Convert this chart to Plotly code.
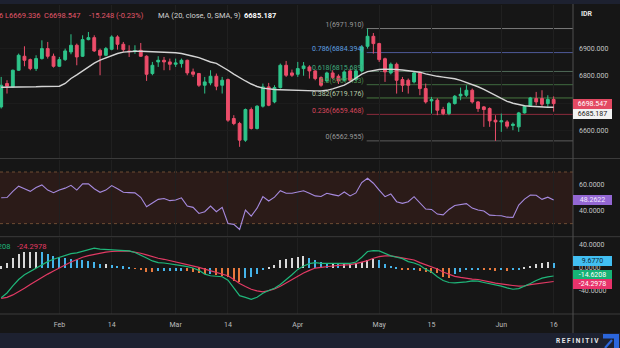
import plotly.graph_objects as go

# ---------------- data ----------------
open_ = [6686.7, 6771.6, 6759.5, 6820.1, 6871.0, 6858.8, 6826.1, 6862.5, 6898.8, 6871.0,
         6834.6, 6858.8, 6886.7, 6911.0, 6871.0, 6931.6, 6938.8, 6892.8, 6874.6, 6896.4,
         6941.3, 6914.6, 6890.4, 6889.0, 6892.8, 6871.0, 6808.0, 6850.4, 6856.4, 6850.4,
         6841.9, 6844.3, 6856.4, 6814.0, 6808.0, 6765.5, 6774.0, 6798.2, 6765.5, 6786.1,
         6644.3, 6626.1, 6565.5, 6677.0, 6608.0, 6689.2, 6759.5, 6704.9, 6757.0, 6838.2,
         6810.4, 6805.5, 6826.0, 6832.1, 6817.6, 6793.3, 6781.2, 6810.3, 6798.2, 6783.6,
         6817.6, 6786.1, 6817.6, 6907.2, 6943.6, 6917.0, 6862.0, 6810.3, 6841.8, 6786.1,
         6783.6, 6777.6, 6810.3, 6753.3, 6708.5, 6710.9, 6677.0, 6662.4, 6698.8, 6726.7,
         6729.1, 6747.3, 6704.8, 6686.7, 6680.6, 6638.2, 6632.1, 6632.1, 6618.8, 6614.0,
         6664.8, 6689.1, 6717.0, 6717.0, 6698.8, 6713.8]
high = [6795.8, 6783.7, 6822.5, 6880.7, 6907.3, 6862.5, 6874.6, 6929.1, 6923.1, 6880.7,
        6868.5, 6898.8, 6951.0, 6917.0, 6947.3, 6959.4, 6947.3, 6898.8, 6904.9, 6947.3,
        6947.3, 6923.1, 6911.0, 6911.0, 6919.4, 6874.6, 6850.4, 6871.0, 6868.5, 6862.5,
        6862.5, 6862.5, 6858.8, 6826.1, 6810.4, 6795.8, 6820.1, 6808.0, 6795.8, 6789.8,
        6656.4, 6632.2, 6680.7, 6684.3, 6692.8, 6771.6, 6774.0, 6765.5, 6844.3, 6854.0,
        6822.5, 6850.4, 6850.0, 6838.2, 6820.0, 6798.0, 6815.0, 6820.0, 6805.0, 6820.0,
        6825.0, 6823.0, 6910.0, 6971.91, 6955.7, 6920.0, 6866.0, 6848.0, 6848.0, 6795.7,
        6790.0, 6815.0, 6815.0, 6771.5, 6723.0, 6718.0, 6686.7, 6704.8, 6730.0, 6757.0,
        6765.4, 6753.3, 6708.0, 6690.0, 6685.0, 6656.4, 6662.4, 6638.2, 6630.0, 6668.5,
        6692.7, 6723.0, 6741.2, 6747.3, 6729.1, 6725.0]
low = [6680.7, 6735.2, 6757.0, 6817.6, 6834.6, 6820.1, 6817.6, 6858.8, 6862.5, 6829.8,
       6832.2, 6854.0, 6878.2, 6838.2, 6868.5, 6929.1, 6886.7, 6801.9, 6871.0, 6892.8,
       6895.2, 6886.7, 6868.5, 6880.0, 6868.5, 6781.3, 6801.9, 6832.2, 6820.1, 6820.1,
       6832.2, 6829.8, 6801.9, 6795.8, 6759.5, 6735.2, 6765.5, 6747.3, 6735.2, 6632.2,
       6620.1, 6541.3, 6559.5, 6604.3, 6604.3, 6684.3, 6689.2, 6700.0, 6753.4, 6795.8,
       6795.8, 6795.8, 6800.0, 6789.7, 6783.6, 6760.0, 6775.0, 6788.0, 6770.0, 6778.0,
       6778.0, 6780.0, 6812.0, 6898.8, 6880.6, 6850.3, 6777.6, 6805.0, 6735.1, 6741.2,
       6735.1, 6772.0, 6729.1, 6698.8, 6662.4, 6656.4, 6656.4, 6656.4, 6695.0, 6710.9,
       6723.0, 6698.8, 6668.5, 6614.0, 6614.0, 6562.955, 6595.8, 6607.9, 6601.8, 6595.8,
       6662.4, 6686.7, 6692.7, 6686.7, 6686.7, 6669.336]
close = [6765.5, 6762.0, 6820.1, 6874.6, 6856.4, 6826.1, 6862.5, 6898.8, 6871.0, 6834.6,
         6858.8, 6890.4, 6911.0, 6868.5, 6931.6, 6938.8, 6890.4, 6874.6, 6898.8, 6941.3,
         6914.6, 6895.2, 6888.0, 6891.0, 6871.0, 6805.5, 6838.2, 6856.4, 6850.4, 6841.9,
         6846.7, 6856.4, 6810.4, 6805.5, 6765.5, 6777.6, 6798.2, 6761.9, 6783.7, 6638.3,
         6626.1, 6565.5, 6677.0, 6608.0, 6689.2, 6759.5, 6692.8, 6757.0, 6838.2, 6801.9,
         6801.9, 6826.1, 6835.7, 6817.6, 6789.7, 6765.4, 6810.3, 6793.3, 6781.2, 6814.0,
         6783.6, 6817.6, 6904.8, 6943.6, 6917.0, 6858.8, 6814.0, 6841.8, 6783.6, 6765.4,
         6765.4, 6810.3, 6753.3, 6704.8, 6713.3, 6674.5, 6662.4, 6698.8, 6725.4, 6732.7,
         6747.3, 6704.8, 6680.6, 6677.0, 6635.8, 6632.1, 6635.8, 6616.4, 6623.6, 6664.8,
         6689.1, 6719.4, 6704.8, 6696.4, 6713.795, 6698.547]
ma20 = [6758, 6758, 6759, 6759, 6760, 6760, 6760, 6761, 6761, 6761,
        6762, 6772, 6790, 6803, 6818, 6833, 6846, 6857, 6865, 6875,
        6881, 6886, 6888, 6889, 6889, 6888, 6888, 6887, 6887, 6886,
        6884, 6881, 6877, 6871, 6866, 6858, 6850, 6845, 6834, 6820,
        6806, 6792, 6781, 6770, 6761, 6755, 6752, 6750, 6749, 6748,
        6747, 6746, 6746, 6745, 6745, 6745, 6747, 6752, 6758, 6766,
        6778, 6792, 6806, 6815, 6820, 6823, 6824, 6824, 6823, 6821,
        6819, 6816, 6813, 6807, 6802, 6798, 6795, 6792, 6789, 6783,
        6776, 6769, 6760, 6750, 6739, 6727, 6717, 6707, 6700, 6695,
        6691, 6689, 6687, 6686, 6685.5, 6685.187]
rsi = [50.1, 50.2, 55.0, 59.0, 57.0, 55.0, 58.0, 60.0, 56.0, 54.0,
       56.0, 57.5, 59.7, 56.0, 60.8, 60.8, 57.0, 54.3, 56.0, 59.5,
       57.0, 54.3, 54.0, 53.8, 50.4, 43.1, 46.0, 48.8, 49.5, 47.8,
       48.3, 50.0, 43.6, 42.6, 37.9, 39.2, 43.6, 39.2, 42.6, 30.1,
       29.4, 25.5, 40.5, 35.8, 42.0, 50.9, 47.5, 50.5, 55.5, 53.5,
       53.5, 54.5, 55.5, 53.5, 51.5, 51.0, 53.5, 52.5, 51.5, 54.5,
       51.5, 53.8, 61.8, 65.2, 61.3, 56.0, 50.9, 53.0, 47.0, 45.7,
       47.0, 50.9, 46.0, 41.3, 41.0, 37.4, 36.8, 41.0, 44.0, 44.5,
       45.5, 42.0, 40.5, 39.8, 36.6, 36.3, 36.1, 35.0, 34.8, 44.4,
       49.0, 52.2, 52.0, 48.8, 50.5, 48.2622]
macd = [-52.8, -44.5, -32.0, -20.8, -12.5, -6.5, -1.8, 4.2, 10.7, 14.8,
        18.4, 21.9, 24.9, 26.1, 29.1, 32.6, 34.4, 32.6, 32.0, 32.6,
        31.4, 30.8, 29.7, 26.7, 22.5, 17.2, 11.9, 8.9, 8.3, 7.1,
        5.9, 3.6, 1.8, -0.6, -4.7, -11.3, -14.2, -15.4, -16.0, -21.9,
        -35.6, -49.2, -52.2, -55.7, -52.2, -45.1, -40.3, -36.2, -29.7, -21.9,
        -12.5, -3.0, 3.0, 7.1, 8.9, 7.7, 7.7, 7.1, 6.5, 7.7,
        7.7, 10.1, 18.4, 28.5, 30.2, 29.7, 24.9, 20.8, 18.4, 16.0,
        10.7, 8.3, 4.2, -3.0, -7.7, -16.0, -22.5, -26.1, -26.7, -26.1,
        -24.9, -23.1, -23.7, -26.1, -27.9, -30.8, -32.6, -35.6, -38.0, -36.8,
        -32.6, -27.9, -22.5, -18.4, -16.2, -14.6208]
signal = [-54.0, -52.2, -48.0, -42.7, -36.2, -29.7, -23.1, -17.2, -11.3, -5.9,
          -1.2, 4.7, 10.1, 14.8, 18.4, 21.3, 23.7, 25.5, 27.3, 28.5,
          29.7, 29.7, 29.1, 27.9, 25.5, 22.5, 19.0, 16.6, 14.8, 12.5,
          10.1, 8.3, 5.9, 3.6, 0.6, -2.4, -5.3, -7.7, -10.1, -14.2,
          -20.8, -27.9, -33.2, -38.0, -40.9, -42.7, -40.3, -37.4, -32.6, -26.7,
          -20.8, -15.4, -9.5, -4.7, -0.6, 0.6, 1.2, 3.0, 4.2, 4.7,
          5.3, 7.1, 9.5, 12.5, 16.6, 19.6, 20.8, 20.8, 19.0, 17.2,
          16.0, 13.6, 8.9, 5.3, 1.8, -2.4, -7.7, -11.9, -15.4, -17.2,
          -19.0, -20.2, -20.8, -22.5, -24.9, -27.3, -29.1, -30.2, -31.4, -32.6,
          -32.0, -29.7, -28.5, -26.7, -25.5, -24.2978]
hist = [3.0, 8.9, 17.2, 25.5, 28.5, 28.5, 28.5, 27.9, 24.3, 21.9,
        19.6, 18.4, 16.6, 14.8, 13.6, 12.5, 10.7, 7.7, 7.7, 6.5,
        4.7, 3.0, 1.2, -0.8, -1.8, -6.5, -7.1, -5.3, -5.3, -4.2,
        -4.2, -4.2, -5.3, -7.1, -8.9, -10.1, -10.1, -11.3, -13.0, -16.0,
        -21.9, -24.9, -17.2, -16.0, -10.1, -1.8, 1.8, 6.5, 13.6, 16.0,
        18.4, 20.2, 20.8, 17.2, 13.6, 10.7, 8.9, 8.9, 7.7, 7.7,
        7.7, 8.9, 10.7, 13.6, 16.6, 13.6, 7.7, 4.7, 0.6, -1.8,
        -3.0, -3.0, -4.2, -6.5, -7.7, -8.9, -14.8, -17.2, -10.1, -6.5,
        -3.6, -1.8, -1.8, -2.4, -3.0, -4.2, -3.6, -4.2, -3.6, -2.4,
        0.6, 4.7, 7.7, 9.5, 10.1, 9.677]

tick_pos = [10, 19, 30, 39, 51, 65, 74, 86, 95]
tick_text = ['Feb', '14', 'Mar', '14', 'Apr', 'May', '15', 'Jun', '16']

fib_ratio_labels = ['1', '0.786', '0.618', '0.5', '0.382', '0.236', '0']
fib_prices = [6971.910, 6884.394, 6815.689, 6767.433, 6719.176, 6659.468, 6562.955]
fib_start_bar = 62.85
fib_label_bar = 62.35

price_ticks = [6600, 6700, 6800, 6900]
rsi_ticks = [40, 60]
macd_ticks = [-40, 0, 40]

# ---------------- style ----------------
W, H = 620, 348
PW = 573
BG = '#161616'
NAVY = '#1d2130'
FONT = 'Roboto'
UP, DOWN = '#2ec48a', '#ec4d6a'
fib_line_colors = ['#7a7a7a', '#4f5a98', '#4f6a58', '#3f6a3f', '#47763f', '#8c2a3c', '#5c5c5c']
fib_text_colors = ['#9a9a9a', '#5d9fe0', '#3fa77a', '#4f8f4f', '#b6c9a8', '#d9465c', '#9a9a9a']
x_range = [-0.206, 98.33]


def px(x):
    return x / PW


def py(y):
    return 1 - y / H


n = len(close)
idx = list(range(n))

fig = go.Figure()

for lab, p, tc in zip(fib_ratio_labels, fib_prices, fib_text_colors):
    fig.add_trace(go.Scatter(x=[fib_label_bar], y=[p], mode='text', text=[f'{lab}({p:.3f})'],
                             textposition='top left', cliponaxis=False,
                             textfont=dict(color=tc, size=7, family=FONT),
                             hoverinfo='skip', xaxis='x', yaxis='y'))

fig.add_trace(go.Candlestick(x=idx, open=open_, high=high, low=low, close=close,
                             increasing=dict(line=dict(color=UP, width=1), fillcolor=UP),
                             decreasing=dict(line=dict(color=DOWN, width=1), fillcolor=DOWN),
                             whiskerwidth=0, hoverinfo='skip', xaxis='x', yaxis='y'))
fig.add_trace(go.Scatter(x=idx, y=ma20, mode='lines', line=dict(color='#d4d4d4', width=1.4),
                         hoverinfo='skip', xaxis='x', yaxis='y'))

fig.add_trace(go.Scatter(x=idx, y=rsi, mode='lines', line=dict(color='#a68ade', width=1.1),
                         hoverinfo='skip', xaxis='x2', yaxis='y2'))

hist_colors = []
for i, h in enumerate(hist):
    prev = hist[i - 1] if i > 0 else 0
    if h >= 0:
        hist_colors.append('#d8d8d8' if h >= prev else '#45b4ea')
    else:
        hist_colors.append('#e8793d' if h < prev else '#45b4ea')
fig.add_trace(go.Bar(x=idx, y=hist, width=0.22, marker=dict(color=hist_colors, line=dict(width=0)),
                     hoverinfo='skip', xaxis='x3', yaxis='y3'))
fig.add_trace(go.Scatter(x=idx, y=signal, mode='lines', line=dict(color='#e23a64', width=1.2),
                         hoverinfo='skip', xaxis='x3', yaxis='y3'))
fig.add_trace(go.Scatter(x=idx, y=macd, mode='lines', line=dict(color='#1fb67a', width=1.2),
                         hoverinfo='skip', xaxis='x3', yaxis='y3'))

xcommon = dict(range=x_range, showgrid=True, gridcolor='#202020', gridwidth=1,
               tickvals=tick_pos, ticktext=tick_text, zeroline=False, showline=False,
               ticks='', fixedrange=True, domain=[0, 1])
ytick_font = dict(size=7, color='#c4c4c4', family=FONT)
ycommon = dict(side='right', showline=False, zeroline=False, ticks='', tickfont=ytick_font,
               ticklabelstandoff=5, fixedrange=True)

fig.update_layout(
    width=W, height=H, margin=dict(l=0, r=W - PW, t=0, b=0),
    paper_bgcolor=BG, plot_bgcolor=BG, showlegend=False, hovermode=False,
    font=dict(family=FONT, color='#c4c4c4', size=7),
    bargap=0,
    xaxis=dict(**xcommon, anchor='y', showticklabels=False, rangeslider=dict(visible=False)),
    xaxis2=dict(**xcommon, anchor='y2', matches='x', showticklabels=False),
    xaxis3=dict(**xcommon, anchor='y3', matches='x', showticklabels=True,
                tickfont=dict(size=7, color='#bdbdbd', family=FONT), ticklabelstandoff=5),
    yaxis=dict(**ycommon, anchor='x', domain=[py(158), py(5)], range=[6500.6, 7057.6],
               tickvals=price_ticks, ticktext=[f'{v:.3f}' for v in price_ticks],
               showgrid=True, gridcolor='#1c1c1c'),
    yaxis2=dict(**ycommon, anchor='x2', domain=[py(236), py(159.5)], range=[20.4, 79.7],
                tickvals=rsi_ticks, ticktext=[f'{v:.4f}' for v in rsi_ticks], showgrid=False),
    yaxis3=dict(**ycommon, anchor='x3', domain=[py(314), py(237.5)], range=[-81.6, 53.2],
                tickvals=macd_ticks, ticktext=[f'{v:.4f}' for v in macd_ticks], showgrid=False),
)

shapes = []
# RSI band and its dotted bounds
shapes.append(dict(type='rect', xref='paper', yref='y2', x0=0, x1=1, y0=30, y1=70,
                   fillcolor='#2b1b18', line=dict(width=0), layer='below'))
for lvl in (30, 70):
    shapes.append(dict(type='line', xref='paper', yref='y2', x0=0, x1=1, y0=lvl, y1=lvl,
                       line=dict(color='#6e4c33', width=1, dash='dot'), layer='below'))
# fibonacci levels
for p, c in zip(fib_prices, fib_line_colors):
    shapes.append(dict(type='line', xref='x', yref='y', x0=fib_start_bar, x1=x_range[1], y0=p, y1=p,
                       line=dict(color=c, width=1), layer='below'))
# strips and separators
shapes.append(dict(type='rect', xref='paper', yref='paper', x0=0, x1=px(W), y0=py(4), y1=1,
                   fillcolor=NAVY, line=dict(width=0), layer='above'))
shapes.append(dict(type='rect', xref='paper', yref='paper', x0=0, x1=px(W), y0=0, y1=py(333),
                   fillcolor=NAVY, line=dict(width=0), layer='above'))
for ysep in (158.5, 236.7, 314):
    shapes.append(dict(type='line', xref='paper', yref='paper', x0=0, x1=px(W), y0=py(ysep), y1=py(ysep),
                       line=dict(color='#3b3b3b', width=1), layer='above'))
shapes.append(dict(type='line', xref='paper', yref='paper', x0=1, x1=1, y0=py(333), y1=py(4),
                   line=dict(color='#4e4e4e', width=1), layer='above'))
# Refinitiv logo mark
logo = (f'M {px(603)},{py(334)} L {px(619)},{py(334)} L {px(619)},{py(348)} L {px(614)},{py(348)} '
        f'L {px(614)},{py(338.5)} L {px(603)},{py(338.5)} Z')
shapes.append(dict(type='path', xref='paper', yref='paper', path=logo, fillcolor='#2b66dc',
                   line=dict(width=0), layer='above'))
shapes.append(dict(type='line', xref='paper', yref='paper', x0=px(605), y0=py(348), x1=px(612), y1=py(340),
                   line=dict(color='#2b66dc', width=2.2), layer='above'))
fig.update_layout(shapes=shapes)

ann = []


def text(x, y, s, color, size=7.5, anchor='left'):
    ann.append(dict(xref='paper', yref='paper', x=px(x), y=py(y), text=s, showarrow=False,
                    xanchor=anchor, yanchor='middle', font=dict(color=color, size=size, family=FONT)))


RED_T = '#e2566b'
text(-3.5, 15, '6', RED_T)
text(3, 15, f'L{low[-1]:.3f}', RED_T)
text(41.5, 15, f'C{close[-1]:.3f}', RED_T)
chg = close[-1] - close[-2]
text(87, 15, f'{chg:.3f} ({chg / close[-2] * 100:.2f}%)', RED_T)
text(155.5, 15, 'MA (20, close, 0, SMA, 9)', '#d2d2d2')
text(241.5, 15, f'<b>{ma20[-1]:.3f}</b>', '#ffffff')
text(579, 14, '<b>IDR</b>', '#e6e6e6', size=7)
text(11.5, 246, f'{macd[-1]:.4f}', '#1fb67a', anchor='right')
text(15, 246, f'{signal[-1]:.4f}', '#e23a64')
ann.append(dict(xref='paper', yref='paper', x=px(601), y=py(340.5), text='<b>R E F I N I T I V</b>',
                showarrow=False, xanchor='right', yanchor='middle',
                font=dict(color='#e8e8e8', size=6.5, family=FONT)))


def box(yref, val, s, bg, fg, yshift=0):
    ann.append(dict(xref='paper', yref=yref, x=1.0, y=val, text=s, showarrow=False,
                    xanchor='left', yanchor='middle', yshift=yshift, width=37, height=8,
                    align='center', bgcolor=bg, borderpad=1, borderwidth=0,
                    font=dict(color=fg, size=7, family=FONT)))


box('y', close[-1], f'{close[-1]:.3f}', '#e34a63', '#ffffff')
box('y', ma20[-1], f'{ma20[-1]:.3f}', '#f2f2f2', '#1a1a1a', yshift=-7)
box('y2', rsi[-1], f'{rsi[-1]:.4f}', '#9367d3', '#f0e8ff')
box('y3', hist[-1], f'{hist[-1]:.4f}', '#42bff2', '#0d2a3a', yshift=1)
box('y3', macd[-1], f'{macd[-1]:.4f}', '#17b276', '#ffffff', yshift=1)
box('y3', signal[-1], f'{signal[-1]:.4f}', '#e8336b', '#ffffff', yshift=-3)

fig.update_layout(annotations=ann)
fig.write_html('out.html')
